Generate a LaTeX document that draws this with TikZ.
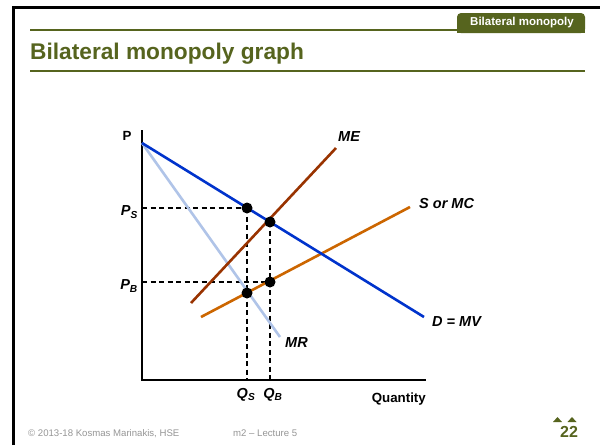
\documentclass[tikz,border=0pt]{standalone}
\usepackage{fontspec}
\setmainfont{Liberation Sans}
\definecolor{olive}{RGB}{86,100,30}
\definecolor{dblue}{RGB}{0,51,204}
\definecolor{lblue}{RGB}{176,196,232}
\definecolor{mebrown}{RGB}{153,51,0}
\definecolor{sorange}{RGB}{204,102,0}
\definecolor{foot}{RGB}{150,150,150}
\tikzset{
  curve/.style={line width=2.6pt},
  guide/.style={line width=1.3pt, dash pattern=on 5pt off 3.5pt},
  dot/.style={circle, fill=black, inner sep=0pt, minimum size=11pt},
  lbl/.style={font=\fontsize{14.5}{16}\selectfont\bfseries\itshape, inner sep=1pt},
  axlbl/.style={font=\fontsize{13.3}{15}\selectfont\bfseries, inner sep=1pt},
}
\begin{document}
\begin{tikzpicture}[x=1pt,y=-1pt]
\useasboundingbox (0,0) rectangle (600,445);
\fill[white] (0,0) rectangle (600,445);
% frame
\draw[line width=3pt] (13,445) -- (13,7.5) -- (600,7.5);
% header
\fill[olive, rounded corners=4pt] (457,13) rectangle (585,33);
\fill[olive] (457,26) rectangle (585,33);
\node[text=white, font=\fontsize{11.5}{13}\selectfont\bfseries] (tab) at (522,22.5) {Bilateral monopoly};
\draw[olive, line width=1.6pt] (30,29.8) -- (457,29.8);
\node[anchor=base west, text=olive, font=\fontsize{22.7}{26}\selectfont\bfseries, inner sep=0pt] (title) at (30,59) {Bilateral monopoly graph};
\draw[olive, line width=1.6pt] (30,71) -- (585,71);
% footer
\node[anchor=base west, text=foot, font=\fontsize{9.6}{11}\selectfont, inner sep=0pt] (copy) at (28,436) {© 2013-18 Kosmas Marinakis, HSE};
\node[anchor=base west, text=foot, font=\fontsize{9.6}{11}\selectfont, inner sep=0pt] (lect) at (233,436) {m2 – Lecture 5};
\node[anchor=base, text=olive, font=\fontsize{16}{18}\selectfont\bfseries, inner sep=0pt] (pg) at (569,437.5) {22};
\fill[olive] (553,422) -- (557.5,417) -- (562,422) -- cycle;
\fill[olive] (567.5,422) -- (572,417) -- (576.5,422) -- cycle;
% axes
\coordinate (O) at (142,380);
\coordinate (Ytop) at (142,130);
\coordinate (Xend) at (426,380);
\draw[line width=1.6pt] (Ytop) -- (O) -- (Xend);
\node[axlbl] (Plab) at (127,136) {P};
\node[axlbl, anchor=base east] (Qlab) at (427,402) {Quantity};
% curves
\coordinate (Dtop) at (142,143);
\coordinate (Dend) at (424,317);
\coordinate (MRend) at (280,337);
\coordinate (MEa) at (191,303);
\coordinate (MEb) at (336,148);
\coordinate (Sa) at (201,317);
\coordinate (Sb) at (410,207);
% points
\coordinate (A) at (247,208);
\coordinate (B) at (270,222);
\coordinate (C) at (247,293);
\coordinate (E) at (270,282);
\coordinate (PSax) at (142,208);
\coordinate (PBax) at (142,282);
\coordinate (QSax) at (247,380);
\coordinate (QBax) at (270,380);
% guides
\draw[guide] (PSax) -- (A);
\draw[guide] (A) -- (QSax);
\draw[guide] (B) -- (QBax);
\draw[guide] (PBax) -- (E);
\draw[curve, lblue] (Dtop) -- (MRend);
\draw[curve, sorange] (Sa) -- (Sb);
\draw[curve, mebrown] (MEa) -- (MEb);
\draw[curve, dblue] (Dtop) -- (Dend);
\node[dot] (dA) at (A) {};
\node[dot] (dB) at (B) {};
\node[dot] (dC) at (C) {};
\node[dot] (dE) at (E) {};
% labels
\node[lbl, anchor=west] (MElab) at (337,137) {ME};
\node[lbl, anchor=west] (Slab) at (418,204) {S or MC};
\node[lbl, anchor=west] (Dlab) at (431,322) {D = MV};
\node[lbl, anchor=west] (MRlab) at (284,343) {MR};
\node[lbl, anchor=east] (PSlab) at (139,212) {P\textsubscript{S}};
\node[lbl, anchor=east] (PBlab) at (139,286) {P\textsubscript{B}};
\node[lbl] (QSlab) at (246,395) {Q\textsubscript{S}};
\node[lbl] (QBlab) at (273,395) {Q\textsubscript{B}};
\end{tikzpicture}
\end{document}
